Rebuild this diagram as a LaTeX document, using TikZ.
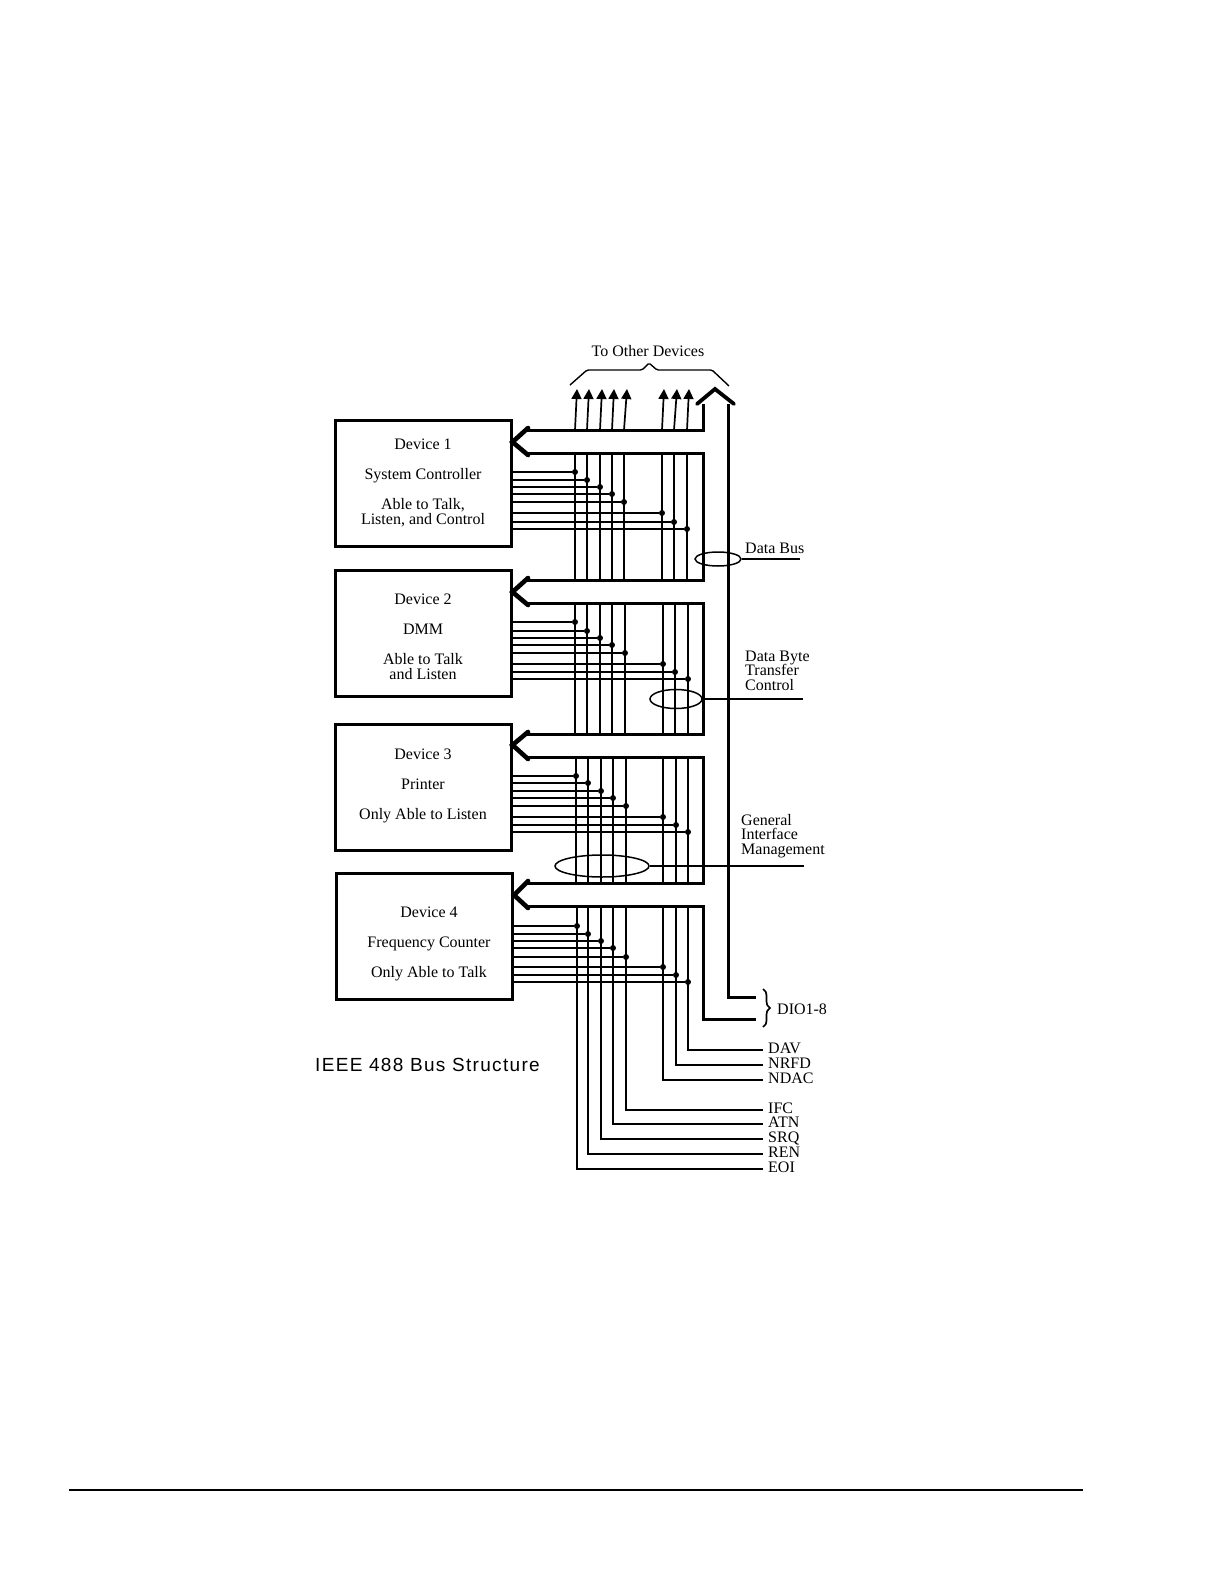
\documentclass[tikz,border=0pt]{standalone}
\usepackage{fontspec}
\setmainfont{Liberation Serif}
\newfontfamily\titulofont[LetterSpace=7]{Liberation Sans}
\usepackage{tikz}
\usetikzlibrary{arrows.meta, shapes.geometric, calc, decorations.pathreplacing}

\begin{document}
\begin{tikzpicture}[x=1pt, y=-1pt, font=\fontsize{16}{15}\selectfont,
	caja/.style={rectangle, draw, line width=3pt, minimum width=176pt,
		minimum height=126pt},
	texto/.style={align=center, inner sep=0pt},
	bus/.style={line width=3pt, line join=miter},
	punta/.style={line width=4.6pt, line join=miter, line cap=round},
	hilo/.style={line width=1.7pt},
	senal/.style={line width=1.4pt},
	fl/.style={hilo, -{Triangle[length=10pt, width=10pt]}},
	punto/.style={circle, fill, inner sep=0pt, minimum size=6pt},
	anillo/.style={ellipse, draw, line width=1.5pt, inner sep=0pt},
	etiq/.style={anchor=west, inner ysep=0pt, inner xsep=5pt, text height=10pt,
		text depth=4pt},
	grupo/.style={anchor=west, align=left, inner sep=0pt}]

	\useasboundingbox (0,0) rectangle (1224,1584);

	% devices
	\node[caja] (dev1) at (423,483) {};
	\node[caja] (dev2) at (423,633) {};
	\node[caja] (dev3) at (423,787) {};
	\node[caja] (dev4) at (424.5,936) {};
	\node[texto] (txt1) at (423,482.5)
		{Device 1\\[15pt] System Controller\\[15pt] Able to Talk,\\ Listen, and Control};
	\node[texto] (txt2) at (423,636.5)
		{Device 2\\[15pt] DMM\\[15pt] Able to Talk\\ and Listen};
	\node[texto] (txt3) at (423,786)
		{Device 3\\[15pt] Printer\\[15pt] Only Able to Listen};
	\node[texto] (txt4) at (429,943.5)
		{Device 4\\[15pt] Frequency Counter\\[15pt] Only Able to Talk};

	% signal taps
	\foreach \s/\x/\y in {a/575/472, b/587/480, c/600/487, d/612/494, e/624/502,
		f/662/513, g/674/522, h/687/529} {
		\node[punto] (d1\s) at (\x,\y) {};
		\draw[senal] (dev1.east |- d1\s) -- (d1\s);
	}
	\foreach \s/\x/\y in {a/575/622, b/587/631, c/600/638, d/612/645, e/625/653,
		f/663/664, g/675/672, h/688/679} {
		\node[punto] (d2\s) at (\x,\y) {};
		\draw[senal] (dev2.east |- d2\s) -- (d2\s);
	}
	\foreach \s/\x/\y in {a/576/776, b/588/783, c/601/791, d/613/798, e/626/806,
		f/663/817, g/676/825, h/688/832} {
		\node[punto] (d3\s) at (\x,\y) {};
		\draw[senal] (dev3.east |- d3\s) -- (d3\s);
	}
	\foreach \s/\x/\y in {a/577/926, b/588/934, c/601/941, d/613/948, e/626/957,
		f/663/967, g/676/975, h/688/982} {
		\node[punto] (d4\s) at (\x,\y) {};
		\draw[senal] (dev4.east |- d4\s) -- (d4\s);
	}

	% bus rails
	\coordinate (izq) at (703,0);
	\coordinate (der) at (728,0);
	\foreach \d/\t/\m/\b in {1/430/442/453, 2/580/592/603, 3/734/745/757, 4/883/895/906} {
		\coordinate (b\d t) at (526,\t);
		\coordinate (b\d b) at (526,\b);
		\coordinate (p\d) at (dev\d.east |- 0,\m);
		\draw[punta] (b\d t) ++(2,-2) -- (p\d) -- ($(b\d b)+(2,2)$);
	}
	\coordinate (picoizq) at (697,404);
	\coordinate (pico) at (715,389);
	\coordinate (picoder) at (734,404);
	\coordinate (fin1) at (756,997);
	\coordinate (fin2) at (756,1019);
	\draw[punta, line width=3.8pt] (picoizq) -- (pico) -- (picoder);
	\draw[bus] (picoizq -| izq) -- (izq |- b1t) -- (b1t);
	\draw[bus] (b1b) -- (izq |- b1b) -- (izq |- b2t) -- (b2t);
	\draw[bus] (b2b) -- (izq |- b2b) -- (izq |- b3t) -- (b3t);
	\draw[bus] (b3b) -- (izq |- b3b) -- (izq |- b4t) -- (b4t);
	\draw[bus] (b4b) -- (izq |- b4b) -- (izq |- fin2) -- (fin2);
	\draw[bus] (picoder -| der) -- (der |- fin1) -- (fin1);

	% line names
	\node[etiq] (eoi) at (763,1169) {EOI};
	\node[etiq] (ren) at (763,1154) {REN};
	\node[etiq] (srq) at (763,1139) {SRQ};
	\node[etiq] (atn) at (763,1124) {ATN};
	\node[etiq] (ifc) at (763,1110) {IFC};
	\node[etiq] (ndac) at (763,1080) {NDAC};
	\node[etiq] (nrfd) at (763,1065) {NRFD};
	\node[etiq] (dav) at (763,1050) {DAV};

	% vertical lines
	\foreach \s/\x/\e in {a/577/eoi, b/589/ren, c/602/srq, d/614/atn, e/627/ifc,
		f/664/ndac, g/677/nrfd, h/689/dav} {
		\coordinate (o\s) at (\x,389);
		\draw[fl] (d1\s |- b1t) -- (o\s);
		\draw[hilo] (d1\s |- b1b) -- (d1\s |- b2t);
		\draw[hilo] (d2\s |- b2b) -- (d2\s |- b3t);
		\draw[hilo] (d3\s |- b3b) -- (d3\s |- b4t);
		\draw[hilo] (d4\s |- b4b) |- (\e.west);
	}

	% groups
	\node[anillo, minimum width=46pt, minimum height=14pt] (anillo1) at (718,559) {};
	\node[anillo, minimum width=52pt, minimum height=19pt] (anillo2) at (676,699) {};
	\node[anillo, minimum width=94pt, minimum height=22pt] (anillo3) at (602,866) {};
	\node[grupo] (gr1) at (745,548) {Data Bus};
	\node[grupo] (gr2) at (745,671) {Data Byte\\[-1pt] Transfer\\[0pt] Control};
	\node[grupo] (gr3) at (741,836) {General\\[-1pt] Interface\\[0pt] Management};
	\coordinate (sal1) at (800,559);
	\coordinate (sal2) at (803,699);
	\coordinate (sal3) at (804,866);
	\draw[senal] (anillo1.east) -- (sal1);
	\draw[senal] (anillo2.east) -- (sal2);
	\draw[senal] (anillo3.east) -- (sal3);

	% braces
	\node[inner sep=0pt] (otros) at (648,351) {To Other Devices};
	\draw[senal, rounded corners=1.5pt] (570,385) -- (587,370) -- (642,370) -- (649,363)
		-- (657,370) -- (712,370) -- (729,386);
	\coordinate (ll1) at (763,989);
	\coordinate (ll2) at (763,1027);
	\draw[line width=1.7pt, decorate, decoration={brace, amplitude=7pt}] (ll1) -- (ll2);
	\node[anchor=west, inner sep=0pt] (dio) at (777,1009) {DIO1-8};

	% caption and rule
	\node[anchor=west, inner sep=0pt, font=\fontsize{19}{20}\titulofont] (titulo) at (315,1065)
		{IEEE 488 Bus Structure};
	\coordinate (reglaizq) at (69,1490);
	\coordinate (regladcha) at (1083,1490);
	\draw[line width=2pt] (reglaizq) -- (regladcha);
\end{tikzpicture}
\end{document}
